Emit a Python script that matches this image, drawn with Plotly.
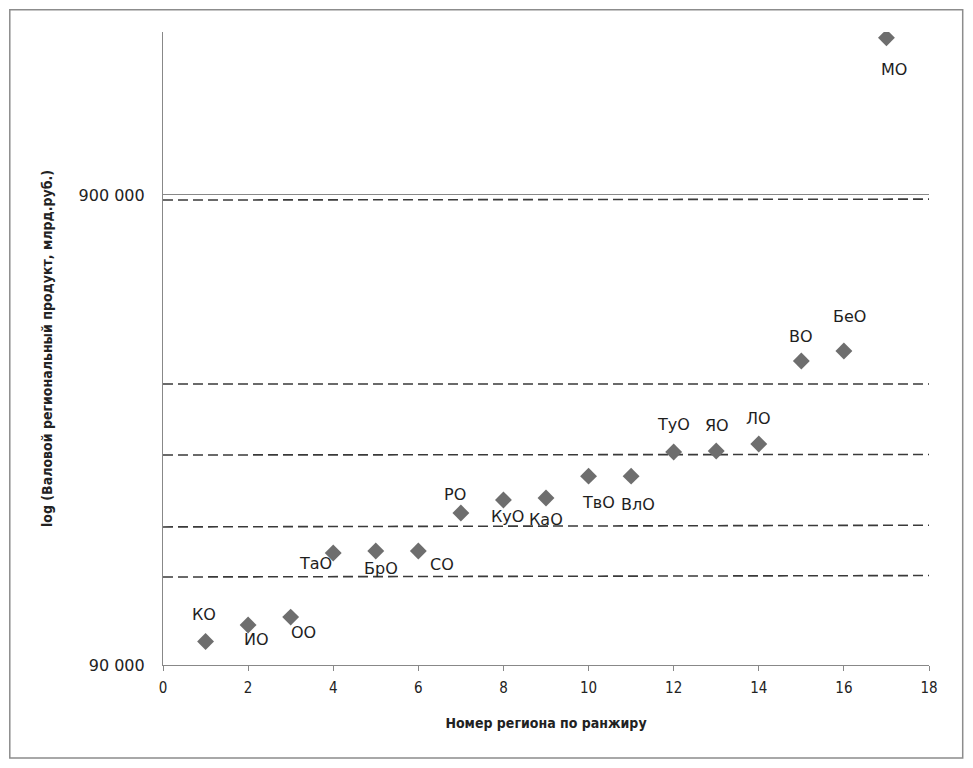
import plotly.graph_objects as go
import math

ranks = list(range(1, 18))
regions = ["КО", "ИО", "ОО", "ТаО", "БрО", "СО", "РО", "КуО", "КаО", "ТвО",
           "ВлО", "ТуО", "ЯО", "ЛО", "ВО", "БеО", "МО"]
grp = [101000, 109500, 113800, 155800, 157300, 157300, 189500, 202000, 204000,
       227000, 227000, 255500, 256700, 265700, 399000, 419000, 1944000]

# label offsets in pixels (right, down) relative to the marker
label_dx = [-2, 8, 13, -18, 5, 24, -6, 4, 0, 10, 7, 0, 1, 0, 0, 6, 8]
label_dy = [-27, 15, 15, 11, 17, 13, -19, 17, 22, 26, 28, -28, -26, -26, -25, -35, 32]

# dashed group boundaries: (value at x=0, value at x=18)
boundary_left = [878000, 356500, 251800, 177000, 138500]
boundary_right = [882000, 356500, 252500, 178500, 139500]

y_ticks = [90000, 900000]
y_ticktext = ["90 000", "900 000"]
x_ticks = list(range(0, 19, 2))

fig = go.Figure()

for yl, yr in zip(boundary_left, boundary_right):
    fig.add_trace(go.Scatter(
        x=[0, 18], y=[yl, yr], mode="lines",
        line=dict(color="#3a3a3a", width=1.6, dash="10px,5px"),
        showlegend=False, hoverinfo="skip"))

fig.add_trace(go.Scatter(
    x=ranks, y=grp, mode="markers",
    marker=dict(symbol="diamond", size=13, color="#6e6e6e"),
    showlegend=False))

for r, v, name, dx, dy in zip(ranks, grp, regions, label_dx, label_dy):
    fig.add_annotation(x=r, y=math.log10(v), text=name, showarrow=False,
                       xshift=dx, yshift=-dy,
                       font=dict(family="DejaVu Sans", size=16, color="#1e1e1e"))

fig.add_shape(type="rect", xref="paper", yref="paper",
              x0=-0.2, x1=1.044, y0=-0.147, y1=1.035,
              line=dict(color="#8c8c8c", width=1.5), fillcolor="rgba(0,0,0,0)")

fig.update_layout(
    width=973, height=768,
    margin=dict(l=155, r=52, t=24, b=111),
    paper_bgcolor="white", plot_bgcolor="white",
    font=dict(family="DejaVu Sans Condensed, DejaVu Sans", color="#222222"),
)
fig.update_xaxes(
    range=[0, 18], tickvals=x_ticks, showgrid=False, zeroline=False,
    showline=True, linecolor="#888888", linewidth=1.2,
    ticks="outside", ticklen=5, tickcolor="#888888", ticklabelstandoff=4,
    tickfont=dict(size=15, family="DejaVu Sans Condensed"),
    title=dict(text="<b>Номер региона по ранжиру</b>",
               font=dict(size=14, family="DejaVu Sans Condensed"), standoff=22),
)
fig.update_yaxes(
    type="log", range=[math.log10(90000), math.log10(2000000)],
    tickvals=y_ticks, ticktext=y_ticktext,
    showgrid=True, gridcolor="#888888", gridwidth=1.2, zeroline=False,
    showline=True, linecolor="#888888", linewidth=1.2,
    ticks="", ticklabelstandoff=14, tickfont=dict(size=16, family="DejaVu Sans"),
    title=dict(text="<b>log (Валовой региональный продукт, млрд.руб.)</b>",
               font=dict(size=14, family="DejaVu Sans Condensed"), standoff=22),
)

fig.write_html("out.html")
